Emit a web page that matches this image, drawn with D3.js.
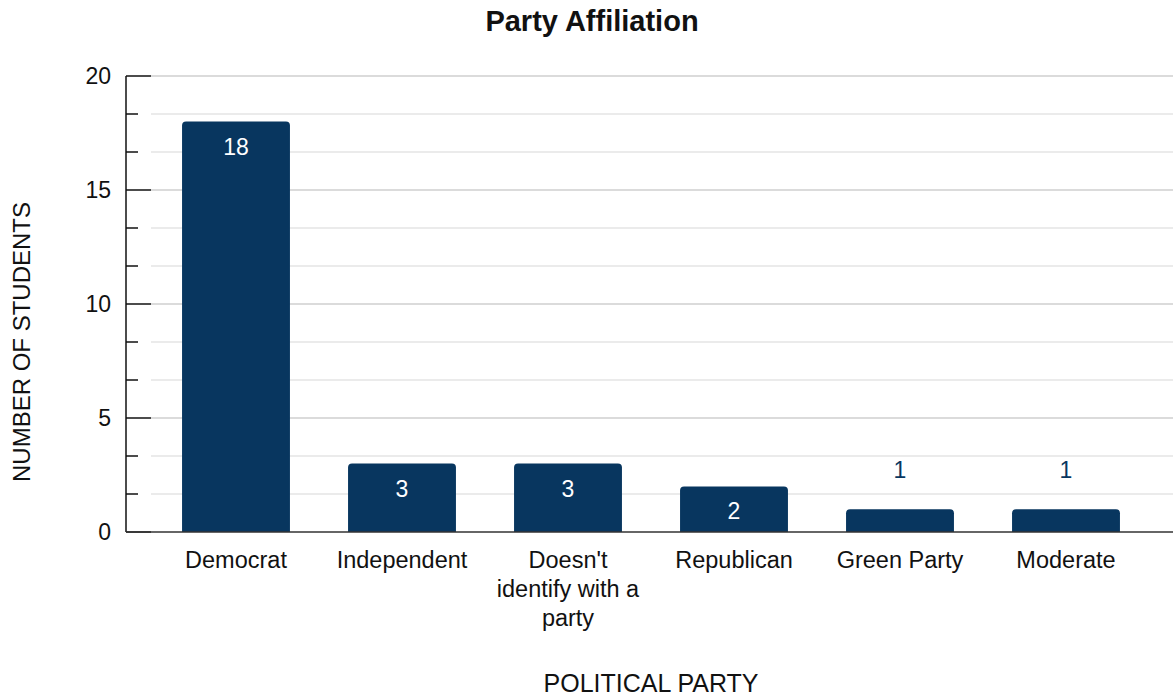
<!DOCTYPE html>
<html>
<head>
<meta charset="utf-8">
<script src="https://cdn.jsdelivr.net/npm/d3@7"></script>
<style>
  body { margin: 0; background: #fff; font-family: "Liberation Sans", Arial, sans-serif; }
  svg text { fill: #111; }
</style>
</head>
<body>
<svg id="chart" width="1173" height="698"></svg>
<script>
var categories = ["Democrat", "Independent", "Doesn't identify with a party", "Republican", "Green Party", "Moderate"];
var values = [18, 3, 3, 2, 1, 1];
var yTicks = [0, 5, 10, 15, 20];

var svg = d3.select("#chart");
var barColor = "#08365f";

var x = d3.scaleBand().domain(categories).range([153, 1149]).paddingInner(0.35).paddingOuter(0.175);
var y = d3.scaleLinear().domain([0, 20]).range([532, 76]);

var gridVals = d3.range(0, 13).map(function(i) { return i * 20 / 12; });

// grid lines
svg.append("g").selectAll("line")
  .data(gridVals.filter(function(d) { return d > 0; }))
  .enter().append("line")
  .attr("x1", 151).attr("x2", 1173)
  .attr("y1", function(d) { return y(d); })
  .attr("y2", function(d) { return y(d); })
  .attr("stroke", function(d, i) { return (i + 1) % 3 === 0 ? "#cfcfcf" : "#e4e4e4"; })
  .attr("stroke-width", 1.5);

// bars with rounded tops
function barPath(d, i) {
  var x0 = x(categories[i]), w = x.bandwidth(), y0 = y(d), y1 = y(0), r = 4;
  return "M" + x0 + "," + y1 + "V" + (y0 + r) + "Q" + x0 + "," + y0 + " " + (x0 + r) + "," + y0 +
    "H" + (x0 + w - r) + "Q" + (x0 + w) + "," + y0 + " " + (x0 + w) + "," + (y0 + r) + "V" + y1 + "Z";
}
svg.append("g").selectAll("path")
  .data(values)
  .enter().append("path")
  .attr("d", barPath)
  .attr("fill", barColor);

// value labels
svg.append("g").selectAll("text")
  .data(values)
  .enter().append("text")
  .attr("x", function(d, i) { return x(categories[i]) + x.bandwidth() / 2; })
  .attr("y", function(d) { return d >= 2 ? y(d) + 33 : y(d) - 31; })
  .attr("text-anchor", "middle")
  .style("font-size", "23px")
  .style("fill", function(d) { return d >= 2 ? "#fff" : barColor; })
  .text(function(d) { return d; });

// y axis
var yAxis = svg.append("g").attr("transform", "translate(126,0)");
yAxis.append("line").attr("x1", 0).attr("x2", 0).attr("y1", y(20)).attr("y2", y(0))
  .attr("stroke", "#111").attr("stroke-width", 1.5);
yAxis.selectAll(".minor").data(gridVals).enter().append("line")
  .attr("x1", 0)
  .attr("x2", function(d, i) { return i % 3 === 0 ? 25 : 12; })
  .attr("y1", function(d) { return y(d); })
  .attr("y2", function(d) { return y(d); })
  .attr("stroke", "#111").attr("stroke-width", 1.5);
yAxis.selectAll("text").data(yTicks).enter().append("text")
  .attr("x", -15)
  .attr("y", function(d) { return y(d); })
  .attr("dy", "0.35em")
  .attr("text-anchor", "end")
  .style("font-size", "23px")
  .text(function(d) { return d; });

// baseline
svg.append("line").attr("x1", 126).attr("x2", 1173).attr("y1", y(0)).attr("y2", y(0))
  .attr("stroke", "#333").attr("stroke-width", 1.5);

// x labels with wrapping
var xl = svg.append("g").selectAll("text")
  .data(categories)
  .enter().append("text")
  .attr("text-anchor", "middle")
  .style("font-size", "23.5px");
xl.each(function(d) {
  var t = d3.select(this);
  var lines = d === "Doesn't identify with a party" ? ["Doesn't", "identify with a", "party"] : [d];
  lines.forEach(function(l, k) {
    t.append("tspan")
      .attr("x", x(d) + x.bandwidth() / 2)
      .attr("y", 568 + k * 29)
      .text(l);
  });
});

// titles
svg.append("text").attr("x", 592).attr("y", 31).attr("text-anchor", "middle")
  .style("font-size", "29px").style("font-weight", "bold").text("Party Affiliation");
svg.append("text").attr("x", 651).attr("y", 692).attr("text-anchor", "middle")
  .style("font-size", "25px").text("POLITICAL PARTY");
svg.append("text").attr("transform", "translate(30,342) rotate(-90)").attr("text-anchor", "middle")
  .style("font-size", "24px").text("NUMBER OF STUDENTS");
</script>
</body>
</html>
